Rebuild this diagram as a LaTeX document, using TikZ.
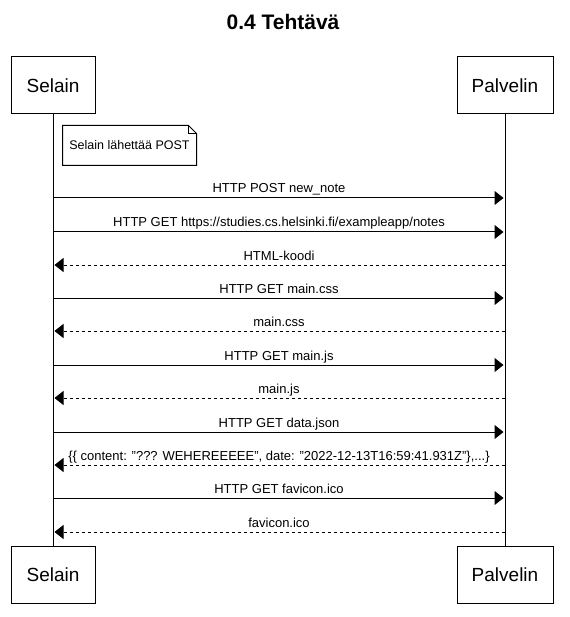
\documentclass[tikz,border=0pt]{standalone}
\usepackage{fontspec}
\setmainfont{Liberation Sans}
\usetikzlibrary{arrows.meta}

\begin{document}
\begin{tikzpicture}[%
        x = 1pt,
        y = -1pt,
        line width = 1pt,
        > = {Triangle[length = 9pt, width = 14pt]},
        font = \fontsize{13}{15}\selectfont,
        actor/.style = {draw, minimum height = 57pt,
            font = \fontsize{19}{22}\selectfont},
        msg/.style = {midway, anchor = base, yshift = 5pt, inner sep = 0pt},
        call/.style = {->, shorten > = 1.5pt},
        reply/.style = {->, shorten > = 1.5pt, dash pattern = on 3pt off 3pt}
    ]

        % Fix the page to the size of the reference.
        \useasboundingbox (0, 0) rectangle (569, 617);

        % Title of the diagram.
        \node[anchor = base, font = \fontsize{21}{24}\selectfont\bfseries]
            (title) at (283, 29.5) {0.4 Tehtävä};

        % The two participants, at the top and at the bottom.
        \node[actor, minimum width = 84pt] (selainTop) at (53, 85.5) {Selain};
        \node[actor, minimum width = 96pt] (palvelinTop) at (505, 85.5) {Palvelin};
        \node[actor, minimum width = 84pt] (selainBot) at (53, 574.5) {Selain};
        \node[actor, minimum width = 96pt] (palvelinBot) at (505, 574.5) {Palvelin};

        % Lifelines between the boxes.
        \draw (selainTop) to (selainBot);
        \draw (palvelinTop) to (palvelinBot);

        % The note with a folded corner.
        \node[minimum width = 133pt, minimum height = 39pt,
            font = \fontsize{12.5}{15}\selectfont] (note) at (129.5, 145.5)
            {Selain lähettää POST};
        \draw (note.north west)
            -- ([xshift = -8pt]note.north east)
            -- ([yshift = -8pt]note.north east)
            -- (note.south east) -- (note.south west) -- cycle;
        \draw ([xshift = -8pt]note.north east)
            -- ([xshift = -8pt, yshift = -8pt]note.north east)
            -- ([yshift = -8pt]note.north east);

        % Requests from the browser to the server.
        \foreach \y/\txt [count = \i] in {%
            198/{HTTP POST new\_note},
            232/{HTTP GET https://studies.cs.helsinki.fi/exampleapp/notes},
            298/{HTTP GET main.css},
            365/{HTTP GET main.js},
            432/{HTTP GET data.json},
            498/{HTTP GET favicon.ico}}{%
            \coordinate (qs\i) at (53, \y);
            \coordinate (qp\i) at (505, \y);
            \draw[call] (qs\i) to node[msg] {\txt} (qp\i);
        }

        % Replies from the server, drawn dashed.
        \foreach \y/\txt [count = \i] in {%
            265/{HTML-koodi},
            331/{main.css},
            398/{main.js},
            465/{\{\{ content: "??? WEHEREEEEE", date: "2022-12-13T16:59:41.931Z"\},...\}},
            532/{favicon.ico}}{%
            \coordinate (rp\i) at (505, \y);
            \coordinate (rs\i) at (53, \y);
            \draw[reply] (rp\i) to node[msg] {\txt} (rs\i);
        }
    \end{tikzpicture}
\end{document}
